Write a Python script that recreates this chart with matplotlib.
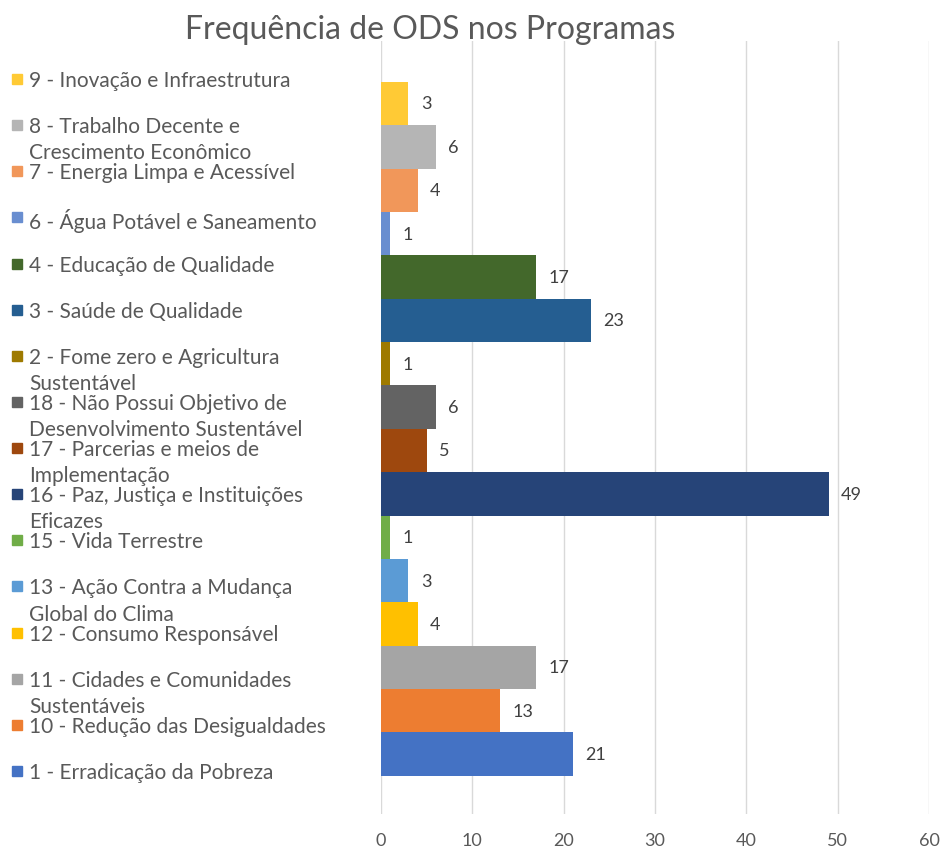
import matplotlib.pyplot as plt
from matplotlib.patches import Rectangle

plt.rcParams['font.family'] = ['Lato', 'DejaVu Sans']

# ordem de cima para baixo, como no gráfico
labels = [
    '9 - Inovação e Infraestrutura',
    '8 - Trabalho Decente e\nCrescimento Econômico',
    '7 - Energia Limpa e Acessível',
    '6 - Água Potável e Saneamento',
    '4 - Educação de Qualidade',
    '3 - Saúde de Qualidade',
    '2 - Fome zero e Agricultura\nSustentável',
    '18 - Não Possui Objetivo de\nDesenvolvimento Sustentável',
    '17 - Parcerias e meios de\nImplementação',
    '16 - Paz, Justiça e Instituições\nEficazes',
    '15 - Vida Terrestre',
    '13 - Ação Contra a Mudança\nGlobal do Clima',
    '12 - Consumo Responsável',
    '11 - Cidades e Comunidades\nSustentáveis',
    '10 - Redução das Desigualdades',
    '1 - Erradicação da Pobreza',
]
values = [3, 6, 4, 1, 17, 23, 1, 6, 5, 49, 1, 3, 4, 17, 13, 21]
colors = ['#FFCA35', '#B5B5B5', '#F1975A', '#698ED0', '#43682B', '#255E91',
          '#9E7A00', '#636363', '#9E480E', '#264478', '#70AD47', '#5B9BD5',
          '#FFC000', '#A5A5A5', '#ED7D31', '#4472C4']

W, H = 951, 853
fig = plt.figure(figsize=(W / 100, H / 100), dpi=100)
ax = fig.add_axes([381 / W, 1 - 815 / H, (929 - 381) / W, (815 - 42) / H])

pos = list(range(len(values)))
ax.barh(pos, values, height=1.0, color=colors)
ax.set_ylim(15.5 + 0.88, -0.5 - 0.94)
ax.set_xlim(0, 60)
ax.set_xticks(range(0, 61, 10))
ax.set_yticks([])
ax.grid(axis='x', color='#D9D9D9', linewidth=1)
ax.set_axisbelow(True)
for s in ax.spines.values():
    s.set_visible(False)
ax.tick_params(axis='x', length=0, labelsize=13, labelcolor='#595959', pad=13)

for p, v in zip(pos, values):
    ax.annotate(str(v), (v, p), xytext=(9, 0), textcoords='offset points',
                ha='left', va='center', fontsize=13, color='#404040')

fig.text(430 / W, 1 - 30 / H, 'Frequência de ODS nos Programas',
         ha='center', va='center', fontsize=23, color='#595959')

# legenda à esquerda
for i, (lab, c) in enumerate(zip(labels, colors)):
    yc = 80 + i * 46.13
    fig.add_artist(Rectangle((12 / W, 1 - (yc + 5) / H), 10 / W, 10 / H,
                             transform=fig.transFigure, color=c))
    fig.text(29 / W, 1 - (yc - 9) / H, lab, ha='left', va='top',
             fontsize=15, color='#595959', linespacing=1.38)

fig.savefig('out.png', dpi=100)
